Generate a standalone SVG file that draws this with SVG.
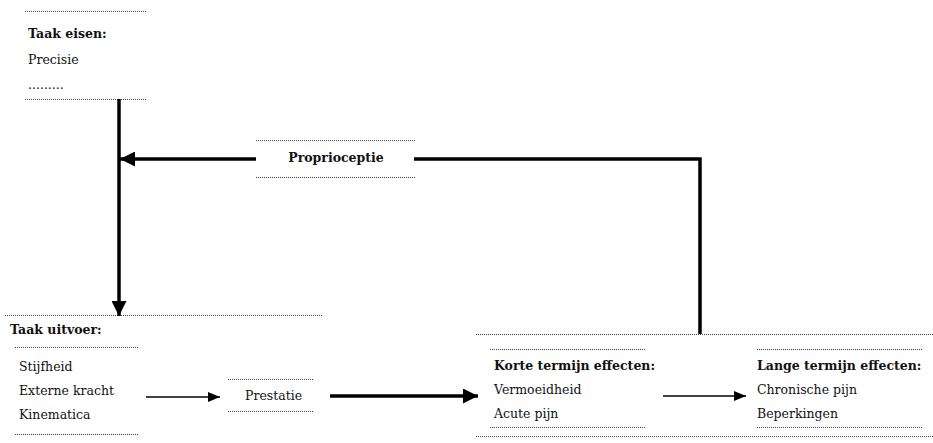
<svg xmlns="http://www.w3.org/2000/svg" width="933" height="443" viewBox="0 0 933 443">
<style>
text{font-family:"DejaVu Serif","Liberation Serif",serif;font-size:12.5px;fill:#111}
.b{font-weight:bold}
.dot{stroke:#444;stroke-width:1;stroke-dasharray:1 1;fill:none}
.thick{stroke:#000;stroke-width:3.5;fill:none}
.thin{stroke:#000;stroke-width:1.5;fill:none}
</style>
<defs>
<marker id="ah" viewBox="0 0 10 10" refX="10" refY="5" markerWidth="15" markerHeight="15" markerUnits="userSpaceOnUse" orient="auto"><path d="M0,0L10,5L0,10z" fill="#000"/></marker>
<marker id="ah2" viewBox="0 0 10 10" refX="10" refY="5" markerWidth="12" markerHeight="10" markerUnits="userSpaceOnUse" orient="auto" preserveAspectRatio="none"><path d="M0,0L10,5L0,10z" fill="#000"/></marker>
</defs>
<g id="taak-eisen">
<line class="dot" x1="25" y1="11.5" x2="147" y2="11.5"/>
<text class="b" x="28" y="38">Taak eisen:</text>
<text x="28" y="64">Precisie</text>
<text x="28" y="89">.........</text>
<line class="dot" x1="25" y1="99.5" x2="147" y2="99.5"/>
</g>
<g id="proprioceptie">
<line class="dot" x1="256" y1="140.5" x2="415" y2="140.5"/>
<text class="b" x="336" y="162" text-anchor="middle">Proprioceptie</text>
<line class="dot" x1="256" y1="177.5" x2="415" y2="177.5"/>
</g>
<g id="taak-uitvoer">
<line class="dot" x1="5" y1="315.5" x2="323" y2="315.5"/>
<text class="b" x="10" y="334">Taak uitvoer:</text>
<line class="dot" x1="15" y1="347.5" x2="138" y2="347.5"/>
<text x="19" y="371">Stijfheid</text>
<text x="19" y="395">Externe kracht</text>
<text x="19" y="419">Kinematica</text>
<line class="dot" x1="15" y1="434.5" x2="138" y2="434.5"/>
</g>
<g id="prestatie">
<line class="dot" x1="228" y1="379.5" x2="313" y2="379.5"/>
<text x="245" y="400">Prestatie</text>
<line class="dot" x1="228" y1="411.5" x2="313" y2="411.5"/>
</g>
<g id="effecten">
<line class="dot" x1="476" y1="334.5" x2="933" y2="334.5"/>
<line class="dot" x1="476" y1="436.5" x2="933" y2="436.5"/>
</g>
<g id="korte-termijn">
<line class="dot" x1="490" y1="349.5" x2="645" y2="349.5"/>
<text class="b" x="494" y="370">Korte termijn effecten:</text>
<text x="494" y="394">Vermoeidheid</text>
<text x="494" y="418">Acute pijn</text>
<line class="dot" x1="490" y1="427.5" x2="645" y2="427.5"/>
</g>
<g id="lange-termijn">
<line class="dot" x1="757" y1="349.5" x2="922" y2="349.5"/>
<text class="b" x="757" y="370">Lange termijn effecten:</text>
<text x="757" y="394">Chronische pijn</text>
<text x="757" y="418">Beperkingen</text>
<line class="dot" x1="757" y1="427.5" x2="922" y2="427.5"/>
</g>
<g id="connectors">
<line class="thick" x1="119" y1="99" x2="119" y2="316" marker-end="url(#ah)"/>
<line class="thick" x1="256" y1="159" x2="120" y2="159" marker-end="url(#ah)"/>
<polyline class="thick" points="414,159 700,159 700,334"/>
<line class="thin" x1="146" y1="397" x2="220" y2="397" marker-end="url(#ah2)"/>
<line class="thick" x1="330" y1="396" x2="478" y2="396" marker-end="url(#ah)"/>
<line class="thin" x1="663" y1="396" x2="746" y2="396" marker-end="url(#ah2)"/>
</g>
</svg>
